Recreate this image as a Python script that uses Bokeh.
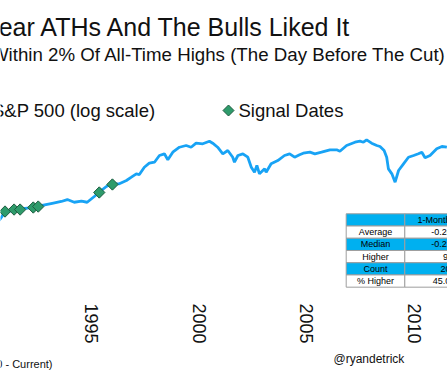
import numpy as np
from bokeh.plotting import figure
from bokeh.models import Range1d, FixedTicker, Label, BoxAnnotation, PolyAnnotation
from bokeh.embed import file_html
from bokeh.resources import INLINE

# ---------------- data ----------------
sp_years = [1990.73, 1990.96, 1991.42, 1991.80, 1992.26, 1992.72, 1993.19, 1993.61, 1993.89, 1994.21,
            1994.54, 1994.81, 1995.14, 1995.37, 1995.70, 1995.98, 1996.30, 1996.63, 1996.86, 1997.09,
            1997.23, 1997.46, 1997.69, 1997.93, 1998.16, 1998.39, 1998.55, 1998.78, 1999.09, 1999.40,
            1999.63, 1999.86, 2000.17, 2000.48, 2000.63, 2000.86, 2001.10, 2001.33, 2001.56, 2001.64,
            2001.80, 2002.03, 2002.26, 2002.42, 2002.57, 2002.68, 2002.80, 2003.04, 2003.11, 2003.34,
            2003.65, 2003.96, 2004.20, 2004.43, 2004.66, 2004.83, 2005.14, 2005.37, 2005.68, 2006.07,
            2006.38, 2006.53, 2006.84, 2007.23, 2007.46, 2007.62, 2007.77, 2008.00, 2008.24, 2008.39,
            2008.58, 2008.70, 2008.78, 2008.94, 2009.09, 2009.25, 2009.48, 2009.71, 2009.95, 2010.17,
            2010.33, 2010.48, 2010.71, 2011.02, 2011.26, 2011.49]
sp_values = [308, 357, 384, 392, 400, 417, 436, 452, 470, 445,
             455, 445, 500, 545, 612, 646, 646, 690, 738, 790,
             779, 903, 979, 999, 1144, 1184, 1049, 1223, 1352, 1400,
             1352, 1467, 1449, 1527, 1467, 1352, 1184, 1265, 1105, 999,
             1144, 1184, 1105, 903, 817, 935, 790, 874, 817, 967,
             1034, 1144, 1184, 1105, 1160, 1198, 1223, 1184, 1223, 1284,
             1284, 1248, 1400, 1496, 1527, 1496, 1571, 1467, 1400, 1372,
             1265, 1105, 874, 790, 667, 845, 967, 1105, 1144, 1184,
             1223, 1092, 1144, 1310, 1372, 1352]

signal_years = [1991.00, 1991.42, 1991.70, 1992.31, 1992.54, 1995.37, 1995.98]
signal_values = [369, 384, 384, 400, 408, 542, 637]

tick_years = [1995, 2000, 2005, 2010]
tick_labels = ["1995", "2000", "2005", "2010"]

table_header = ["", "1-Month Later"]
table_rows = ["Average", "Median", "Higher", "Count", "% Higher"]
table_values = ["-0.26%", "-0.22%", "9", "20", "45.0%"]

# ---------------- layout ----------------
W, H = 447, 373
FONT = "Liberation Sans"
INK = "#111111"
LINE_BLUE = "#18A3F5"
SIGNAL_GREEN = "#2E9B6B"
SIGNAL_EDGE = "#1E5C40"
AXIS_FLOOR = 63.7        # bottom of the price scale, where the date axis sits


def sx(px):
    return px


def sy(py):
    return H - py


p = figure(width=W, height=H,
           x_range=Range1d(1990.79, 2011.52),
           y_range=Range1d(14.0, 26190), y_axis_type="log",
           y_axis_location=None,
           output_backend="svg", toolbar_location=None,
           min_border_left=0, min_border_right=0, min_border_top=0,
           min_border_bottom=0)
p.outline_line_color = None
p.grid.visible = False
p.background_fill_color = "white"
p.border_fill_color = "white"

ax = p.xaxis[0]
ax.fixed_location = AXIS_FLOOR
ax.ticker = FixedTicker(ticks=tick_years)
ax.major_label_overrides = {y: s for y, s in zip(tick_years, tick_labels)}
ax.major_label_orientation = "vertical"
ax.axis_line_color = None
ax.major_tick_line_color = None
ax.minor_tick_line_color = None
ax.major_tick_out = 0
ax.major_tick_in = 0
ax.minor_tick_out = 0
ax.minor_tick_in = 0
ax.major_label_standoff = 5
ax.major_label_text_font = FONT
ax.major_label_text_font_size = "18px"
ax.major_label_text_color = INK

line_r = p.line(sp_years, sp_values, line_color=LINE_BLUE, line_width=2.8)
sc_r = p.scatter(signal_years, signal_values, marker="square", angle=np.pi / 4, size=8,
                 fill_color=SIGNAL_GREEN, line_color=SIGNAL_EDGE, line_width=1)


def label(x, y, text, size, align="left", baseline="alphabetic", color=INK):
    p.add_layout(Label(x=sx(x), y=sy(y), x_units="screen", y_units="screen", text=text,
                       text_align=align, text_baseline=baseline, text_font=FONT,
                       text_font_size=size, text_color=color))


# titles
label(352, 26, "Fed Cuts Near ATHs And The Bulls Liked It", "25px", align="right")
label(446, 54, "Fed Cut With S&P 500 Within 2% Of All-Time Highs (The Day Before The Cut)",
      "18.7px", align="right")

# legend
label(155, 110, "S&P 500 (log scale)", "18.5px", align="right", baseline="middle")
label(238, 110, "Signal Dates", "18.5px", align="left", baseline="middle")
kx, ky, kr = 228, 110, 5.5
p.add_layout(PolyAnnotation(xs=[sx(kx - kr), sx(kx), sx(kx + kr), sx(kx)],
                            ys=[sy(ky), sy(ky - kr), sy(ky), sy(ky + kr)],
                            xs_units="screen", ys_units="screen",
                            fill_color=SIGNAL_GREEN, fill_alpha=1,
                            line_color=SIGNAL_EDGE, line_width=1, line_alpha=1))

# footer
label(333, 358, "@ryandetrick", "12px", align="left", baseline="middle")
label(52, 363, "(1990 - Current)", "11px", align="right", baseline="middle")

# table
col_edges = [345.7, 404.3, 485.7]
row_top = 213.3
row_h = 12.23
BLUE = "#00B0F0"
rows = [table_header] + [[r, v] for r, v in zip(table_rows, table_values)]
for i, row in enumerate(rows):
    top = row_top + i * row_h
    bot = top + row_h
    fill = BLUE if i % 2 == 0 else "white"
    for j, txt in enumerate(row):
        l, r = col_edges[j], col_edges[j + 1]
        p.add_layout(BoxAnnotation(left=sx(l), right=sx(r), top=sy(top), bottom=sy(bot),
                                   left_units="screen", right_units="screen",
                                   top_units="screen", bottom_units="screen",
                                   fill_color=fill, fill_alpha=1, line_color="#9E9E9E",
                                   line_width=1, line_alpha=1))
        if txt:
            label((l + r) / 2, (top + bot) / 2, txt, "9px", align="center",
                  baseline="middle", color="#000000")

open("out.html", "w").write(file_html(p, INLINE))
